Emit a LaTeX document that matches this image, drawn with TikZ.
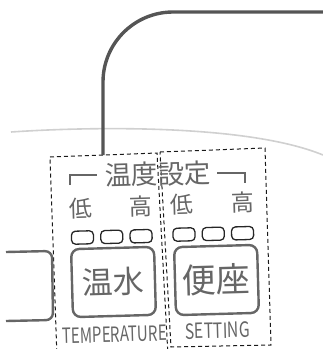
\documentclass[tikz,border=0pt]{standalone}
\usepackage{fontspec}
\setmainfont{Noto Sans CJK JP}
\usepackage{graphicx}
\usetikzlibrary{positioning}

\definecolor{wiregray}{HTML}{555555}
\definecolor{inkgray}{HTML}{666666}
\definecolor{rimgray}{HTML}{D0D0D0}

\tikzset{
	tag/.style={inner sep=0pt, text=inkgray, rotate=1.6},
	lamp/.style={draw=black!85, line width=1.3pt, rounded corners=4pt,
		minimum width=22pt, minimum height=13pt, inner sep=0pt, rotate=1.6},
	knob/.style={draw=inkgray, line width=2.4pt, rounded corners=8pt,
		minimum width=83pt, minimum height=68pt, inner sep=0pt, text=inkgray, rotate=1.6},
	zone/.style={draw=black!90, line width=1pt, dash pattern=on 4pt off 3pt},
	bracket/.style={draw=inkgray, line width=1.8pt}
}

\begin{document}
\begin{tikzpicture}[x=1pt,y=-1pt]
\useasboundingbox (0,0) rectangle (323,349);
\clip (0,0) rectangle (323,349);

% rim of the seat
\draw[rimgray, line width=1.6pt] (11,132) .. controls (100,126) and (250,125) .. (323,155);

% dashed areas
\draw[zone] (50,157) -- (157,153) -- (168,356) -- (57,358) -- cycle;
\draw[zone] (160,152) -- (265,148) -- (271,345) -- (171,347) -- cycle;

% cord
\coordinate (feed) at (103,155);
\coordinate (cord) at (330,12);
\draw[wiregray, line width=3.4pt, rounded corners=70pt] (feed) |- (cord);

% heading
\node[tag, font=\fontsize{26.5}{26.5}\selectfont] (head) at (158,174) {温度設定};
\draw[bracket] (70,185) -- (70,175) -- (97,175);
\draw[bracket] (217,173) -- (245,173) -- (245,183);

\node[tag, font=\fontsize{23}{23}\selectfont] (lowA) at (81,208) {低};
\node[tag, font=\fontsize{23}{23}\selectfont] (highA) at (141,206) {高};
\node[tag, font=\fontsize{23}{23}\selectfont] (lowB) at (182,204) {低};
\node[tag, font=\fontsize{23}{23}\selectfont] (highB) at (243,202) {高};

% lamps
\node[lamp] (a1) at (82.5,237.5) {};
\node[lamp, right=6pt of a1] (a2) {};
\node[lamp, right=6pt of a2] (a3) {};
\node[lamp] (b1) at (184,234.5) {};
\node[lamp, right=6pt of b1] (b2) {};
\node[lamp, right=6pt of b2] (b3) {};

% buttons
\draw[inkgray, line width=2.4pt, rounded corners=7pt] (6,252) -- (52,251) -- (53,320) -- (6,321);
\node[knob, font=\fontsize{31}{31}\selectfont] (hot) at (113.5,282) {温水};
\node[knob, font=\fontsize{34}{34}\selectfont] (seat) at (216.5,280) {便座};

\node[tag, font=\fontsize{21}{21}\selectfont] (temp) at (114.5,334.5) {\scalebox{0.72}[1]{TEMPERATURE}};
\node[tag, font=\fontsize{21}{21}\selectfont] (set) at (217.5,330.5) {\scalebox{0.75}[1]{SETTING}};
\end{tikzpicture}
\end{document}
